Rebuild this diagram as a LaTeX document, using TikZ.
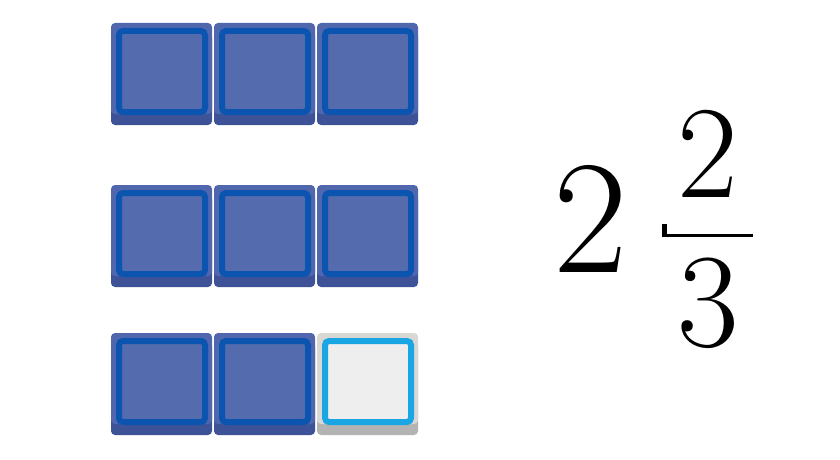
\documentclass[tikz,border=0pt]{standalone}
\usepackage{fontspec}
\definecolor{tbody}{HTML}{5167AD}
\definecolor{tinner}{HTML}{546BAE}
\definecolor{tring}{HTML}{0B55B1}
\definecolor{tshadow}{HTML}{3E5298}
\definecolor{ebody}{HTML}{DAD8D4}
\definecolor{einner}{HTML}{EEEEEE}
\definecolor{ering}{HTML}{1AA5E3}
\definecolor{eshadow}{HTML}{B3B3B3}
\tikzset{
  digit/.style={inner sep=0pt, anchor=base, text=black},
  pics/tile/.style n args={4}{code={
    \fill[#4, rounded corners=4pt] (0,10) rectangle (101,102);
    \fill[#1, rounded corners=4pt] (0,0) rectangle (101,91);
    \draw[#3, fill=#2, line width=6pt, rounded corners=4pt] (8,8) rectangle (94,89);
  }}
}
\begin{document}
\begin{tikzpicture}[x=1pt,y=-1pt]
\useasboundingbox (0,0) rectangle (840,460);
\foreach \r/\yy in {1/23,2/185}{
  \foreach \c/\xx in {1/111,2/214,3/317}{
    \pic (tile\r\c) at (\xx,\yy) {tile={tbody}{tinner}{tring}{tshadow}};
  }
}
\pic (tile31) at (111,333) {tile={tbody}{tinner}{tring}{tshadow}};
\pic (tile32) at (214,333) {tile={tbody}{tinner}{tring}{tshadow}};
\pic (tile33) at (317,333) {tile={ebody}{einner}{ering}{eshadow}};
\node[digit, font=\fontsize{162}{162}\selectfont] (whole) at (591,272) {2};
\node[digit, font=\fontsize{132}{132}\selectfont] (num) at (708,197) {2};
\node[digit, font=\fontsize{134}{134}\selectfont] (den) at (708,346) {3};
\fill[black] (662,233.5) rectangle (753,237);
\fill[black] (662,224) rectangle (667,237);
\end{tikzpicture}
\end{document}
